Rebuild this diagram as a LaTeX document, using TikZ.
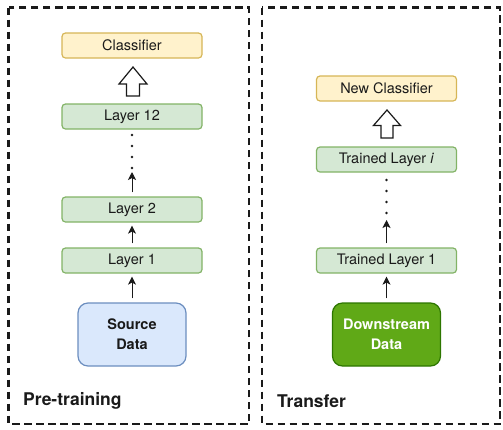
\documentclass[tikz,border=0pt]{standalone}
\usepackage{fontspec}
\setmainfont{TeX Gyre Heros}
\usetikzlibrary{arrows.meta}
\definecolor{ylwF}{HTML}{FFF2CC}
\definecolor{ylwD}{HTML}{D6B656}
\definecolor{grnF}{HTML}{D5E8D4}
\definecolor{grnD}{HTML}{82B366}
\definecolor{bluF}{HTML}{DAE8FC}
\definecolor{bluD}{HTML}{6C8EBF}
\definecolor{dgrF}{HTML}{60A917}
\definecolor{dgrD}{HTML}{2D7600}
\definecolor{txt}{HTML}{1A1A1A}
\begin{document}
\begin{tikzpicture}[x=1pt,y=-1pt,
  panel/.style={draw=txt,line width=2.8pt,dash pattern=on 7.5pt off 4.5pt},
  layerbox/.style={draw=grnD,fill=grnF,line width=1.2pt,rounded corners=3.5pt,minimum width=140pt,minimum height=25pt,inner sep=0pt,font=\fontsize{14.5}{16}\selectfont,text=txt},
  clsbox/.style={layerbox,draw=ylwD,fill=ylwF},
  databox/.style={draw=bluD,fill=bluF,line width=1.2pt,rounded corners=10pt,minimum width=108pt,minimum height=63pt,inner sep=0pt,align=center,font=\fontsize{14.5}{20}\selectfont\bfseries,text=txt},
  dsbox/.style={databox,draw=dgrD,fill=dgrF,text=white},
  arr/.style={draw=txt,line width=1pt,-{Stealth[length=8pt,width=8pt,inset=2pt]},shorten <=4pt,shorten >=3pt},
  dotline/.style={draw=txt,line width=2.8pt,line cap=round,dash pattern=on 0pt off 11pt},
  bigarr/.style={draw=txt,fill=white,line width=1.2pt,line join=miter},
  lbl/.style={anchor=west,inner sep=0pt,font=\fontsize{17.5}{20}\selectfont\bfseries,text=txt}
]
\useasboundingbox (0,0) rectangle (503,429);
% panels
\draw[panel] (8.5,7.5) rectangle (249,424);
\draw[panel] (262,7.5) rectangle (500,424);

% left column
\node[clsbox] (cls) at (132,45.5) {Classifier};
\node[layerbox] (l12) at (132,116.5) {Layer 12};
\node[layerbox] (l2) at (132,209.5) {Layer 2};
\node[layerbox] (l1) at (132,260.5) {Layer 1};
\node[databox] (src) at (132,334.5) {Source\\Data};
\coordinate (la) at (132,172);
\coordinate (lb) at (132,168);
\coordinate (lc) at (132,134.5);
\draw[arr,shorten >=0pt] (l2.north) -- (la);
\draw[dotline] (lb) -- (lc);
\draw[arr] (l1.north) -- (l2.south);
\draw[arr] (src.north) -- (l1.south);
\draw[bigarr] (133,67) -- (147,84) -- (139.5,84) -- (139.5,96) -- (126.5,96) -- (126.5,84) -- (119,84) -- cycle;
\node[lbl] (pt) at (23,401) {Pre-training};

% right column
\node[clsbox] (ncls) at (386.5,88.5) {New Classifier};
\node[layerbox] (tli) at (386.5,159.5) {Trained Layer \textit{i}};
\node[layerbox] (tl1) at (386.5,260.5) {Trained Layer 1};
\node[dsbox] (ds) at (386.5,334.5) {Downstream\\Data};
\coordinate (ra) at (386.5,220);
\coordinate (rb) at (386.5,213);
\coordinate (rc) at (386.5,179.5);
\draw[arr,shorten >=0pt] (tl1.north) -- (ra);
\draw[dotline] (rb) -- (rc);
\draw[arr] (ds.north) -- (tl1.south);
\draw[bigarr] (387,110) -- (400.5,125.5) -- (393,125.5) -- (393,138) -- (381,138) -- (381,125.5) -- (373.5,125.5) -- cycle;
\node[lbl] (tr) at (277,401) {Transfer};
\end{tikzpicture}
\end{document}
